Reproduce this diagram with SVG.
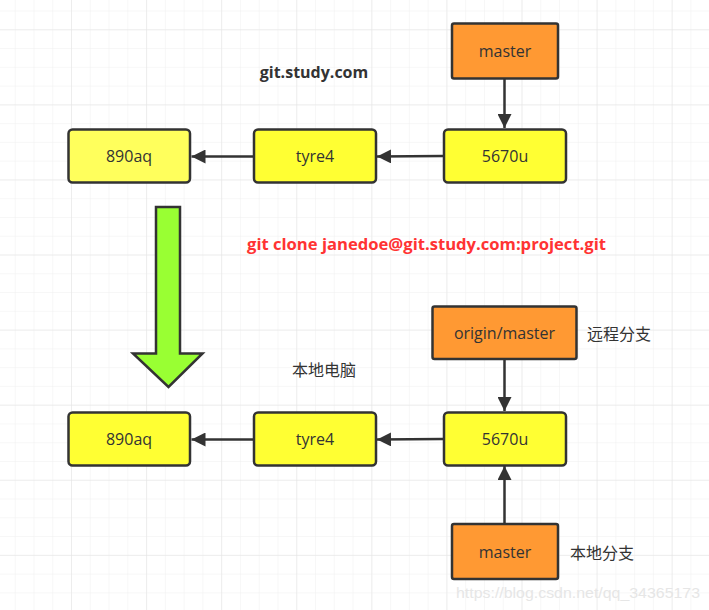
<svg xmlns="http://www.w3.org/2000/svg" width="709" height="610" viewBox="0 0 709 610">
<defs>
<pattern id="minor" x="14.7" y="10.5" width="18.77" height="18.77" patternUnits="userSpaceOnUse">
<path d="M0 0V18.77M0 0H18.77" fill="none" stroke="#f0f0f0" stroke-width="1"/>
</pattern>
<pattern id="major" x="71" y="29.3" width="75.08" height="75.08" patternUnits="userSpaceOnUse">
<path d="M0 0V75.08M0 0H75.08" fill="none" stroke="#e4e4e4" stroke-width="1"/>
</pattern>
<marker id="ah2" viewBox="0 0 10 10" refX="10" refY="5" markerWidth="14" markerHeight="14" markerUnits="userSpaceOnUse" orient="auto">
<path d="M0 0L10 5L0 10z" fill="#333"/>
</marker>
</defs>
<style>
.y{fill:#ffff33;stroke:#333;stroke-width:2.5}
.o{fill:#ff9933;stroke:#333;stroke-width:2.5}
.t{font-family:"Open Sans","Noto Sans CJK SC",sans-serif;font-size:16px;fill:#333;text-anchor:middle;dominant-baseline:central}
.c{font-family:"Noto Sans CJK SC",sans-serif;font-size:16px;fill:#333;dominant-baseline:central}
.b{font-family:"Open Sans","Noto Sans CJK SC",sans-serif;font-size:16px;font-weight:bold;dominant-baseline:central}
.l{fill:none;stroke:#333;stroke-width:2.5;marker-end:url(#ah2)}
</style>
<rect width="709" height="610" fill="#fff"/>
<rect width="709" height="610" fill="url(#minor)"/>
<rect width="709" height="610" fill="url(#major)"/>

<g id="connectors">
<line class="l" x1="504.5" y1="79" x2="504.5" y2="128"/>
<line class="l" x1="443" y1="156" x2="377" y2="156.5"/>
<line class="l" x1="253" y1="156.5" x2="191.5" y2="156.5"/>
<line class="l" x1="504.5" y1="360" x2="504.5" y2="411"/>
<line class="l" x1="443" y1="439" x2="377" y2="439.5"/>
<line class="l" x1="253" y1="439.5" x2="191.5" y2="439.5"/>
<line class="l" x1="504.5" y1="523" x2="504.5" y2="466"/>
</g>

<g id="master-top"><rect class="o" x="452" y="23.5" width="106" height="55" rx="2"/><text class="t" x="505" y="50.5">master</text></g>
<g id="c5670u-top"><rect class="y" x="444" y="129.5" width="122" height="53" rx="4"/><text class="t" x="505" y="156">5670u</text></g>
<g id="tyre4-top"><rect class="y" x="254" y="129.5" width="122" height="53" rx="4"/><text class="t" x="315" y="156">tyre4</text></g>
<g id="c890aq-top"><rect class="y" x="68.5" y="129.5" width="121.5" height="53" rx="4" style="fill:#ffff5c"/><text class="t" x="129" y="156">890aq</text></g>

<g id="label-remote"><text class="b" x="314" y="72" text-anchor="middle" fill="#333">git.study.com</text></g>

<g id="clone-arrow"><path d="M156 207H180V353.5H202.5L168.5 387L133 353.5H156Z" fill="#99ff33" stroke="#333" stroke-width="2.5" stroke-linejoin="miter"/></g>
<g id="label-clone"><text class="b" x="247" y="244" textLength="359" lengthAdjust="spacingAndGlyphs" fill="#ff3333">git clone janedoe@git.study.com:project.git</text></g>

<g id="origin-master"><rect class="o" x="432.5" y="306.5" width="144" height="52.5" rx="2"/><text class="t" x="504.5" y="333">origin/master</text></g>
<g id="label-yuancheng"><text class="c" x="587" y="333">远程分支</text></g>
<g id="label-bendi"><text class="c" x="292" y="369">本地电脑</text></g>

<g id="c5670u-bot"><rect class="y" x="444" y="412.5" width="122" height="53" rx="4"/><text class="t" x="505" y="439">5670u</text></g>
<g id="tyre4-bot"><rect class="y" x="254" y="412.5" width="122" height="53" rx="4"/><text class="t" x="315" y="439">tyre4</text></g>
<g id="c890aq-bot"><rect class="y" x="68.5" y="412.5" width="121.5" height="53" rx="4"/><text class="t" x="129" y="439">890aq</text></g>

<g id="master-bot"><rect class="o" x="452" y="524" width="106" height="55" rx="2"/><text class="t" x="505" y="551.5">master</text></g>
<g id="label-local-branch"><text class="c" x="570" y="552">本地分支</text></g>

<text x="456" y="592" font-family="Liberation Sans,sans-serif" font-size="15" textLength="244" lengthAdjust="spacingAndGlyphs" fill="#e6e6e6" dominant-baseline="central">https://blog.csdn.net/qq_34365173</text>
</svg>
